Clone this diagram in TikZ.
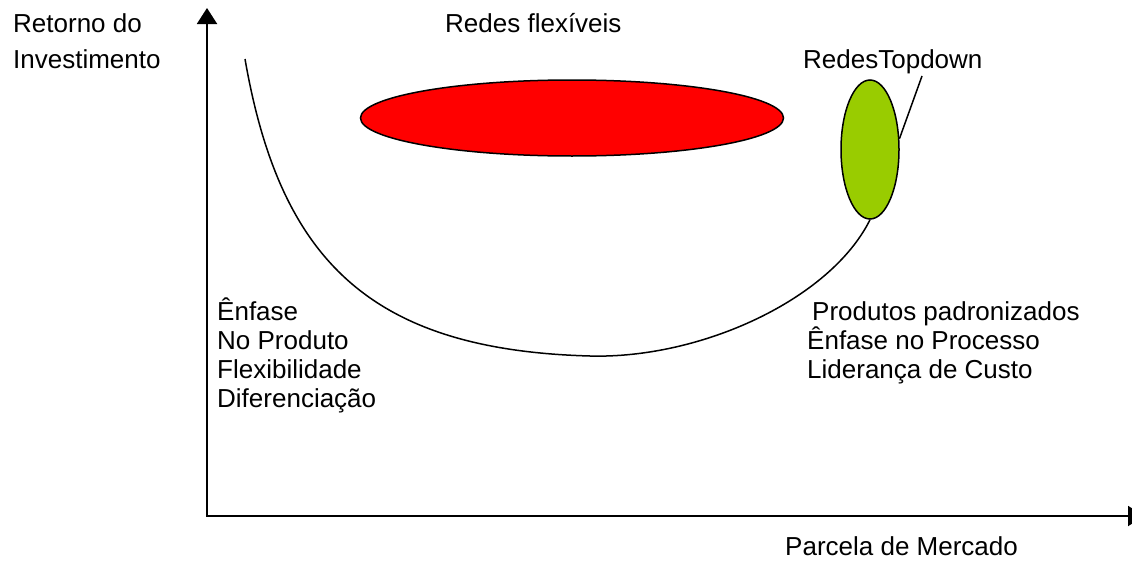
\documentclass[tikz,border=0pt]{standalone}
\usepackage{fontspec}
\setmainfont{Liberation Sans}
\usetikzlibrary{arrows.meta,shapes.geometric}
\definecolor{redesred}{HTML}{FF0000}
\definecolor{topdowngreen}{HTML}{99CC00}
\tikzset{
	axis/.style={line width=2pt, {Triangle[width=20pt,length=16pt]}-{Triangle[width=20pt,length=16pt]}},
	blob/.style={ellipse, draw, line width=1.5pt, inner sep=0pt},
	lbl/.style={anchor=base west, inner sep=0pt, font=\fontsize{26}{30}\selectfont},
	curveline/.style={line width=1.5pt},
}

\begin{document}
\begin{tikzpicture}[x=1pt,y=-1pt]
	\path[use as bounding box, clip] (0,0) rectangle (1132,562);
	%
	%axes
	\coordinate (ytip) at (207,8);
	\coordinate (origin) at (207,516);
	\coordinate (xtip) at (1144,516);
	\draw[axis] (ytip) -- (origin) -- (xtip);
	%
	%networks
	\node[blob, fill=redesred, minimum width=423pt, minimum height=76pt] (flex) at (572,118) {};
	\node[blob, fill=topdowngreen, minimum width=58pt, minimum height=139pt] (topdown) at (870,149.5) {};
	%
	%curve
	\coordinate (curvestart) at (245,59);
	\coordinate (curvelow) at (590,356);
	\draw[curveline] (curvestart) .. controls (280,260) and (370,350) .. (curvelow)
		.. controls (700,359) and (830,300) .. (topdown.south);
	%
	%labels
	\node[lbl] (retorno) at (13,32) {Retorno do};
	\node[lbl] (invest) at (13,68) {Investimento};
	\node[lbl] (flexlbl) at (445,32) {Redes flexíveis};
	\node[lbl] (tdlbl) at (803,68) {RedesTopdown};
	\coordinate (tdpoint) at (922,76);
	\draw[curveline] (topdown.20) -- (tdpoint);
	%
	\node[lbl] (enfase) at (217,320) {Ênfase};
	\node[lbl] (produto) at (217,349) {No Produto};
	\node[lbl] (flexib) at (217,378) {Flexibilidade};
	\node[lbl] (difer) at (217,407) {Diferenciação};
	%
	\node[lbl] (padron) at (812,320) {Produtos padronizados};
	\node[lbl] (processo) at (807,349) {Ênfase no Processo};
	\node[lbl] (custo) at (807,378) {Liderança de Custo};
	%
	\node[lbl] (mercado) at (785,555) {Parcela de Mercado};
\end{tikzpicture}
\end{document}
